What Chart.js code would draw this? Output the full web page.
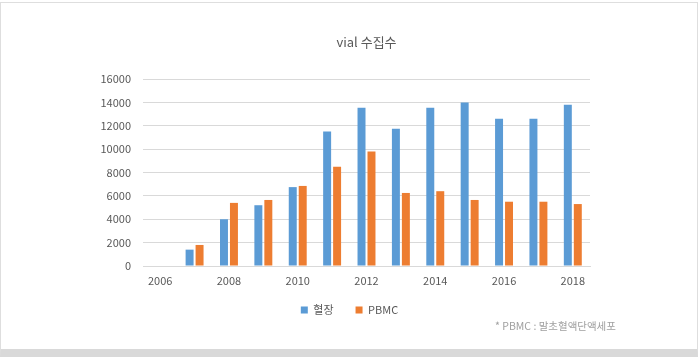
<!DOCTYPE html>
<html>
<head>
<meta charset="utf-8">
<script src="https://cdn.jsdelivr.net/npm/chart.js@4/dist/chart.umd.min.js"></script>
<style>
  html, body { margin: 0; padding: 0; background: #ffffff; }
  #frame {
    position: absolute; left: 0; top: 2px; width: 698px; height: 355px;
    box-sizing: border-box; border: 1px solid #dedede; border-bottom: 8px solid #d9d9d9;
    background: #ffffff;
  }
  #wrap { position: absolute; left: 0; top: 0; width: 699px; height: 357px; }
  #note {
    position: absolute; left: 495px; top: 318px;
    font-family: 'Noto Sans CJK KR', sans-serif; font-size: 10.5px; color: #a0a0a0;
    white-space: nowrap;
  }
</style>
</head>
<body>
<div id="frame"></div>
<div id="wrap"><canvas id="c" width="699" height="357"></canvas></div>
<div id="note">* PBMC : 말초혈액단액세포</div>
<script>
const categories = ['2006','2007','2008','2009','2010','2011','2012','2013','2014','2015','2016','2017','2018'];
const plasma = [0, 1400, 4000, 5200, 6750, 11500, 13550, 11750, 13550, 14000, 12600, 12600, 13800];
const pbmc   = [0, 1800, 5400, 5650, 6850, 8500, 9800, 6250, 6400, 5650, 5500, 5500, 5300];
const seriesNames = ['혈장', 'PBMC'];
const yTicks = { min: 0, max: 16000, step: 2000 };

const FONT = "'Noto Sans CJK KR', sans-serif";
const TXT = '#595959';

// lift the legend a little closer to the axis labels (as in the original layout)
const legendLift = {
  id: 'legendLift',
  afterLayout(chart) {
    const lg = chart.legend;
    if (lg) { lg.top -= 9.5; lg.bottom -= 9.5; }
  }
};

new Chart(document.getElementById('c'), {
  type: 'bar',
  data: {
    labels: categories,
    datasets: [
      { label: seriesNames[0], data: plasma, backgroundColor: '#5b9bd5', borderWidth: 0,
        categoryPercentage: 0.58, barPercentage: 0.8 },
      { label: seriesNames[1], data: pbmc, backgroundColor: '#ed7d31', borderWidth: 0,
        categoryPercentage: 0.58, barPercentage: 0.8 }
    ]
  },
  plugins: [legendLift],
  options: {
    responsive: false,
    animation: false,
    layout: { padding: { left: 0, right: 0, top: 0, bottom: 22 } },
    plugins: {
      title: {
        display: true, text: 'vial 수집수', fullSize: false,
        color: TXT, font: { family: FONT, size: 13, weight: 'normal' },
        padding: { top: 34, bottom: 29.4 }
      },
      legend: {
        display: true, position: 'bottom',
        labels: {
          boxWidth: 7, boxHeight: 7, padding: 22, color: TXT,
          font: { family: FONT, size: 11 }
        }
      },
      tooltip: { enabled: false }
    },
    scales: {
      x: {
        grid: { display: false, drawTicks: false },
        border: { display: true, color: '#d9d9d9' },
        ticks: {
          color: TXT, font: { family: FONT, size: 11 }, padding: 8,
          autoSkip: false, maxRotation: 0,
          callback: function (v, i) { return i % 2 === 0 ? categories[i] : ''; }
        },
        afterFit: function (s) { s.height = 26; }
      },
      y: {
        min: yTicks.min, max: yTicks.max,
        grid: { color: '#d9d9d9', drawTicks: false },
        border: { display: false },
        ticks: {
          stepSize: yTicks.step, color: TXT, font: { family: FONT, size: 11 }, padding: 12,
          callback: function (v) { return String(v); }
        },
        afterFit: function (s) { s.width = 143; }
      },
      yR: {
        position: 'right', display: true,
        grid: { display: false, drawTicks: false }, border: { display: false },
        ticks: { display: false },
        afterFit: function (s) { s.width = 109; }
      }
    }
  }
});
</script>
</body>
</html>
